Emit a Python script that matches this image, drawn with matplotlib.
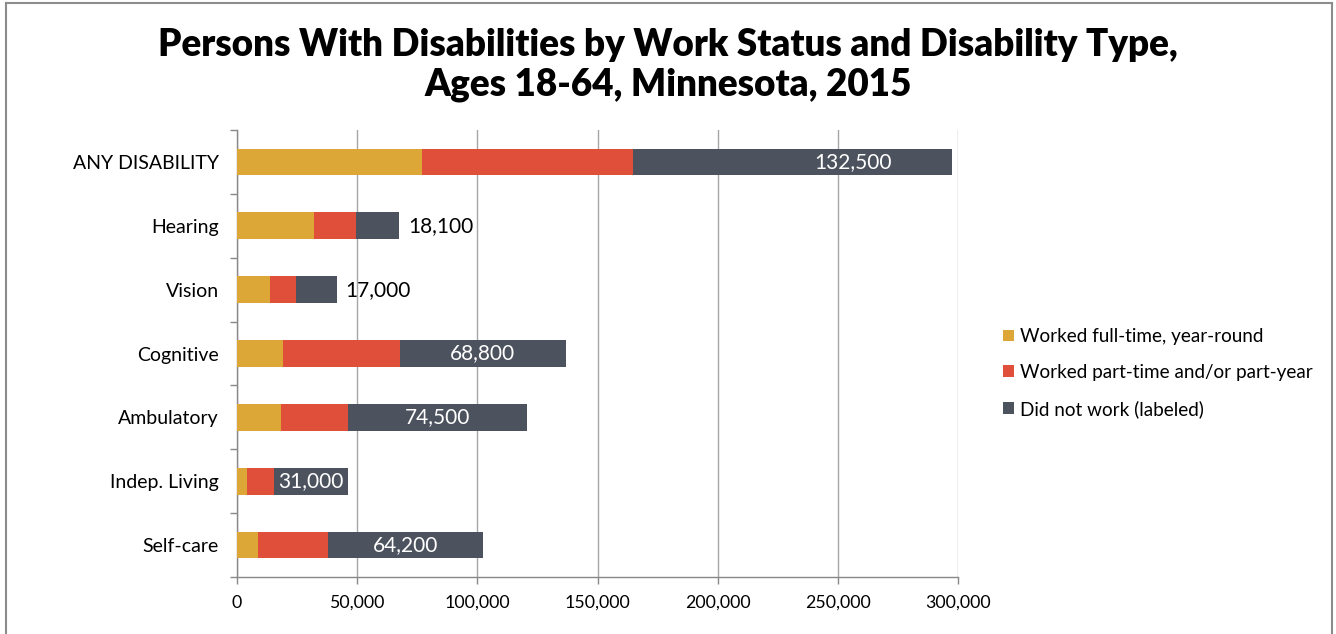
import matplotlib
matplotlib.use("Agg")
import matplotlib.pyplot as plt
from matplotlib.patches import Patch
from matplotlib.ticker import FuncFormatter, FixedLocator
from matplotlib.lines import Line2D

plt.rcParams['font.family'] = ['Lato', 'DejaVu Sans']

categories = ["ANY DISABILITY", "Hearing", "Vision", "Cognitive", "Ambulatory", "Indep. Living", "Self-care"]
full_time = [77000, 32000, 13700, 19100, 18300, 4000, 8700]
part_time = [87800, 17500, 10800, 48800, 27800, 11300, 29300]
did_not_work = [132500, 18100, 17000, 68800, 74500, 31000, 64200]
series_names = ["Worked full-time, year-round", "Worked part-time and/or part-year", "Did not work (labeled)"]
colors = ["#DDA737", "#E04F39", "#4D535E"]
x_ticks = [0, 50000, 100000, 150000, 200000, 250000, 300000]

fig = plt.figure(figsize=(13.36, 6.34), dpi=100)
ax = fig.add_axes([237/1336, 1-577/634, (958-237)/1336, (577-130)/634])

y = list(range(len(categories)))
left2 = [a for a in full_time]
left3 = [a + b for a, b in zip(full_time, part_time)]
h = 0.42
ax.barh(y, full_time, height=h, color=colors[0], zorder=3)
ax.barh(y, part_time, left=left2, height=h, color=colors[1], zorder=3)
ax.barh(y, did_not_work, left=left3, height=h, color=colors[2], zorder=3)

ax.set_ylim(len(categories) - 0.5, -0.5)
ax.set_xlim(0, 300000)
ax.set_xticks(x_ticks)
ax.xaxis.set_major_formatter(FuncFormatter(lambda v, p: f"{int(v):,}"))
ax.set_yticks(y)
ax.set_yticklabels(categories)
ax.yaxis.set_minor_locator(FixedLocator([i - 0.5 for i in range(len(categories) + 1)]))
ax.tick_params(axis='y', which='major', length=0, pad=13, labelsize=14, labelcolor='black')
ax.tick_params(axis='y', which='minor', length=5, color='#888888', width=1)
ax.tick_params(axis='x', which='major', length=5, color='#888888', width=1, pad=8, labelsize=12.8)
ax.grid(axis='x', color='#A6A6A6', linewidth=1, zorder=0)
for s in ['top', 'right']:
    ax.spines[s].set_visible(False)
for s in ['left', 'bottom']:
    ax.spines[s].set_color('#888888')
    ax.spines[s].set_linewidth(1)

# value labels
for i, (l3, d) in enumerate(zip(left3, did_not_work)):
    total = l3 + d
    txt = f"{d:,}"
    if i == 0:
        ax.annotate(txt, (total, i), xytext=(-43, 0), textcoords='offset points',
                    ha='right', va='center', color='white', fontsize=15, zorder=5)
    elif i in (1, 2):
        ax.annotate(txt, (total, i), xytext=(6, 0), textcoords='offset points',
                    ha='left', va='center', color='black', fontsize=15, zorder=5)
    else:
        ax.text(l3 + d / 2, i, txt, ha='center', va='center', color='white', fontsize=15, zorder=5)

handles = [Patch(facecolor=c, edgecolor='none') for c in colors]
fig.legend(handles, series_names, loc='center left', bbox_to_anchor=(986/1336, 1-373/634),
           frameon=False, fontsize=13.6, handlelength=0.6, handleheight=0.6,
           handletextpad=0.3, labelspacing=1.0)

fig.text(0.5, 1-45/634, "Persons With Disabilities by Work Status and Disability Type,",
         ha='center', va='center', fontsize=26.5, fontweight='heavy')
fig.text(0.5, 1-85/634, "Ages 18-64, Minnesota, 2015",
         ha='center', va='center', fontsize=26.5, fontweight='heavy')

# figure border
for xs, ys in [([6/1336, 6/1336], [0, 1-3/634]), ([6/1336, 1332/1336], [1-3/634, 1-3/634]),
               ([1332/1336, 1332/1336], [0, 1-3/634])]:
    fig.add_artist(Line2D(xs, ys, color='#8C8C8C', linewidth=1.5, transform=fig.transFigure))

fig.savefig("out.png", dpi=100)
